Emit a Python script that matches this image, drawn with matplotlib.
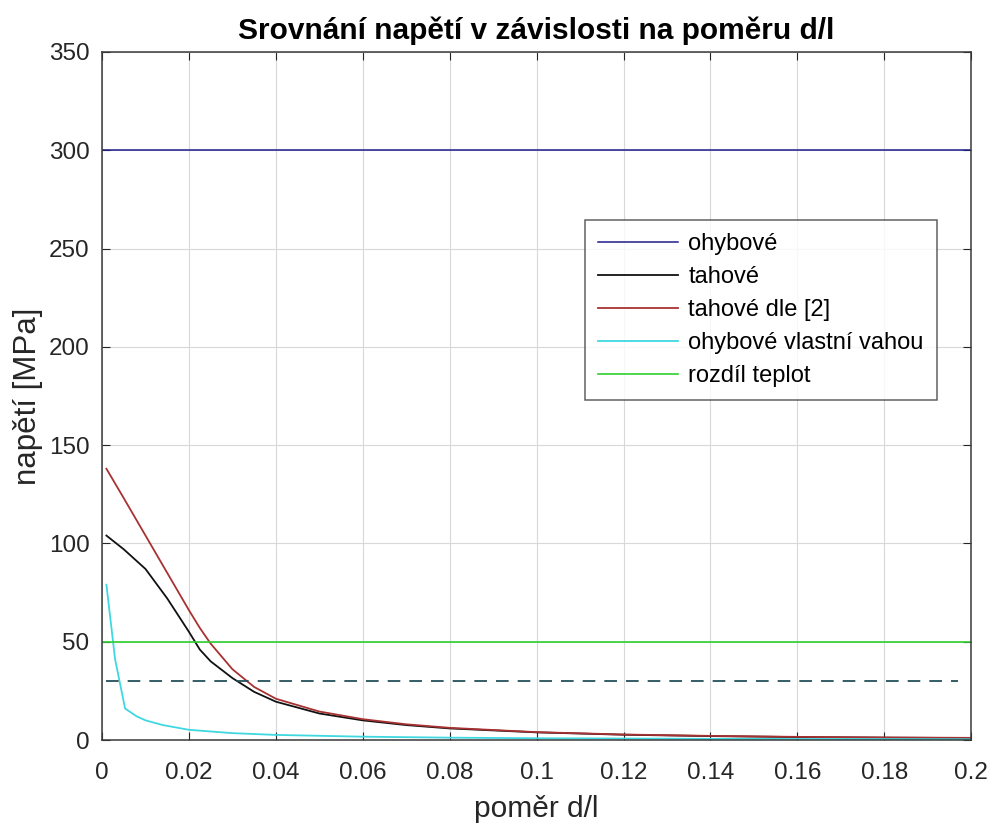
import numpy as np
import matplotlib.pyplot as plt

plt.rcParams['font.family'] = ['Liberation Sans', 'DejaVu Sans']

# values
x = [0.001, 0.005, 0.010, 0.015, 0.020, 0.0225, 0.025, 0.030, 0.035, 0.040, 0.050,
     0.060, 0.070, 0.080, 0.100, 0.120, 0.140, 0.160, 0.180, 0.200]
tahove = [104, 97, 87, 72, 55, 46, 40, 31.5, 24.5, 19.5, 13.5,
          10.0, 7.6, 5.9, 3.9, 2.7, 2.0, 1.5, 1.2, 1.0]
tahove_dle2 = [138, 123, 104, 85, 66, 57, 49, 36, 27, 21, 14.5,
               10.6, 8.0, 6.2, 4.0, 2.8, 2.1, 1.6, 1.3, 1.1]
x_vlastni = [0.001, 0.003, 0.0053, 0.008, 0.010, 0.014, 0.020, 0.030, 0.040,
             0.060, 0.080, 0.100, 0.140, 0.200]
vlastni = [79, 41, 16, 12, 10, 7.6, 5.2, 3.5, 2.6, 1.7, 1.2, 0.9, 0.6, 0.4]
ohybove = 300
rozdil_teplot = 50
mez = 30

fig = plt.figure(figsize=(9.91, 8.25), dpi=100)
ax = fig.add_axes([0.103, 0.103, 0.877, 0.834])

ax.plot([0, 0.2], [ohybove, ohybove], color='#1c1c8c', lw=1.1, label='ohybové')
ax.plot(x, tahove, color='#111111', lw=1.3, label='tahové')
ax.plot(x, tahove_dle2, color='#a83232', lw=1.3, label='tahové dle [2]')
ax.plot(x_vlastni, vlastni, color='#3fd8e0', lw=1.3, label='ohybové vlastní vahou')
ax.plot([0, 0.2], [rozdil_teplot, rozdil_teplot], color='#2fcf2f', lw=1.2, label='rozdíl teplot')
ax.plot([0.001, 0.197], [mez, mez], color='#24505a', lw=1.3, ls=(0, (7, 5)))

ax.set_xlim(0, 0.2)
ax.set_ylim(0, 350)
ax.set_xticks(np.arange(0, 0.2001, 0.02))
ax.set_xticklabels(['0', '0.02', '0.04', '0.06', '0.08', '0.1', '0.12', '0.14', '0.16', '0.18', '0.2'])
ax.set_yticks(np.arange(0, 351, 50))
ax.tick_params(labelsize=17.5, colors='#262626', direction='in', length=6, top=True, right=True)
ax.tick_params(axis='x', pad=16)
ax.tick_params(axis='y', pad=9)
ax.grid(True, color='#d8d8d8', lw=0.8)
for s in ax.spines.values():
    s.set_color('#3a3a3a')
    s.set_linewidth(1.1)

ax.set_title('Srovnání napětí v závislosti na poměru d/l', fontsize=21.5, fontweight='bold', pad=9)
ax.set_xlabel('poměr d/l', fontsize=21.5, color='#262626', labelpad=8)
ax.set_ylabel('napětí [MPa]', fontsize=22.5, color='#262626', labelpad=4)

leg = ax.legend(loc='upper left', bbox_to_anchor=(0.5558, 0.7558), borderaxespad=0,
                fontsize=17, frameon=True, fancybox=False, edgecolor='#3a3a3a',
                handlelength=3.4, handletextpad=0.42, borderpad=0.55, labelspacing=0.47)
leg.get_frame().set_linewidth(1.1)

fig.savefig('out.png', dpi=100)
